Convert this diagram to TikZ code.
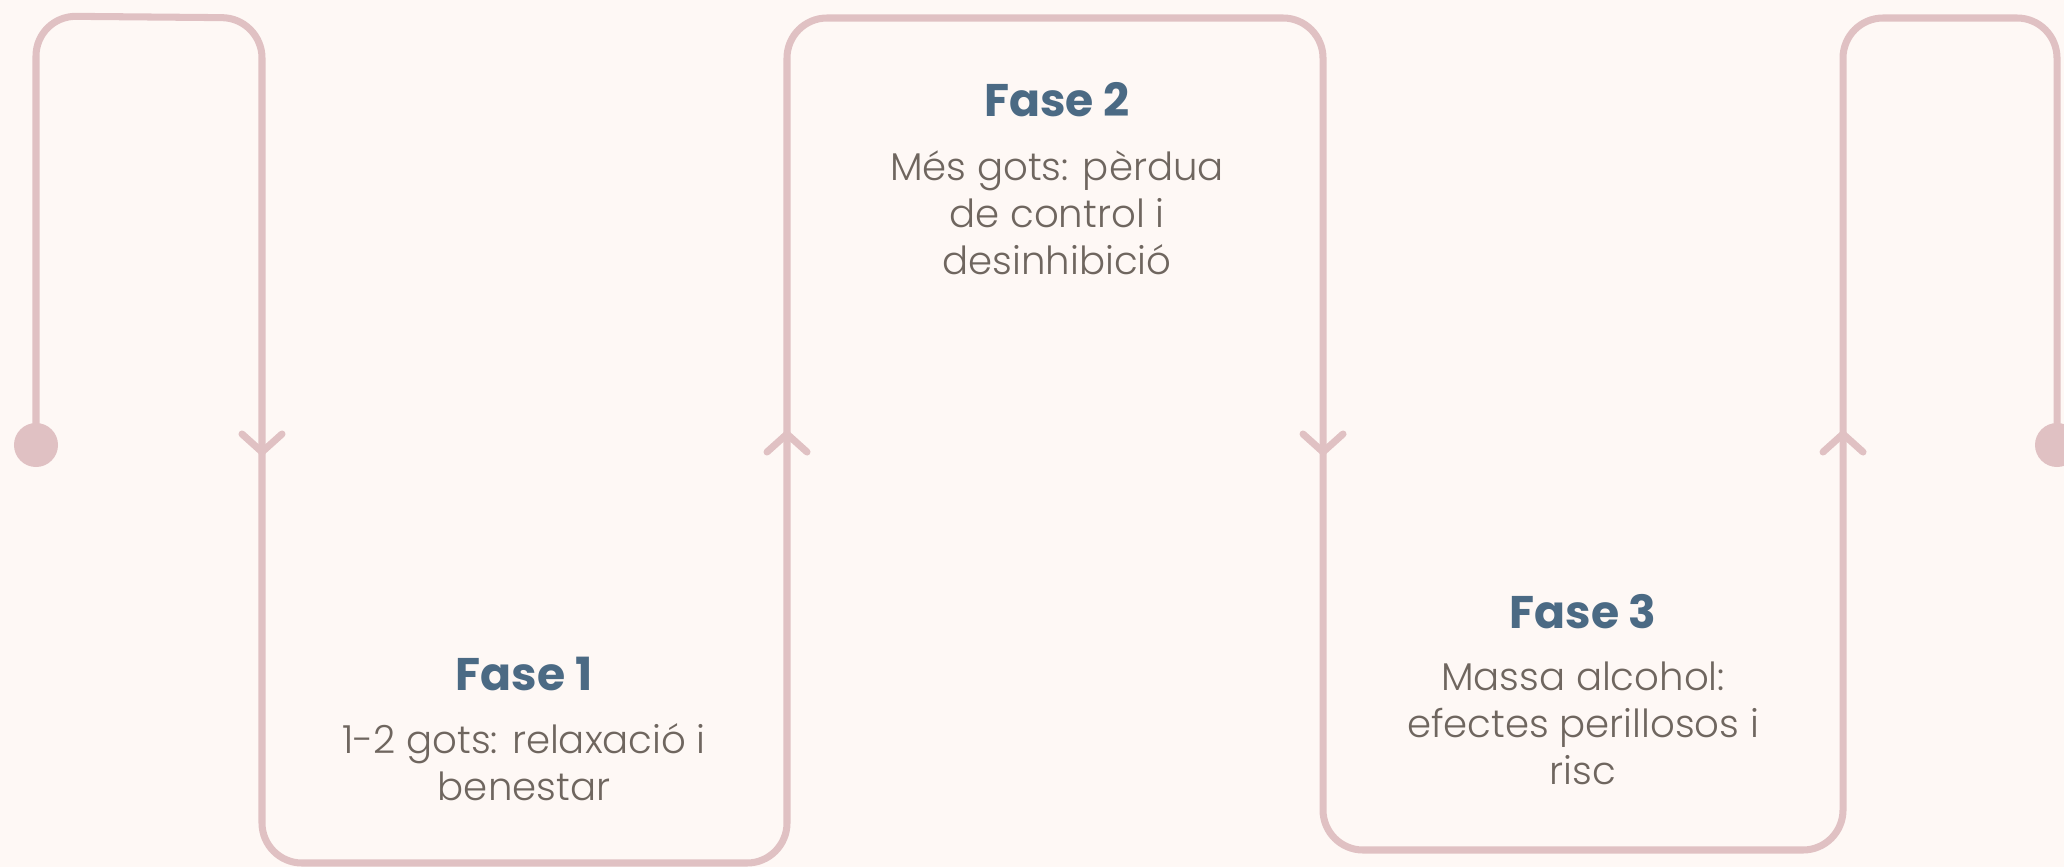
\documentclass[tikz,border=0pt]{standalone}
\usepackage{fontspec}
\setmainfont{Poppins}
\newfontfamily\lightfont{Poppins}[UprightFont=* Light]
\usetikzlibrary{positioning}
\definecolor{bgcream}{HTML}{FEF8F5}
\definecolor{pathrose}{HTML}{E0C1C3}
\definecolor{titleblue}{HTML}{4B6A84}
\definecolor{bodygrey}{HTML}{6F665F}

\begin{document}
\begin{tikzpicture}[x=0.01cm,y=-0.01cm,
  flow/.style={draw=pathrose,line width=2pt,rounded corners=4mm},
  chev/.style={draw=pathrose,line width=2pt,line cap=round,line join=round},
  dot/.style={circle,fill=pathrose,minimum size=4.4mm,inner sep=0pt},
  phase/.style={font=\fontsize{13}{16}\selectfont\bfseries,text=titleblue,inner sep=0pt},
  desc/.style={font=\lightfont\fontsize{11}{13.4}\selectfont,text=bodygrey,
    align=center,inner sep=0pt,execute at begin node={\rule{0pt}{10pt}}}]
  \fill[bgcream] (0,0) rectangle (2064,867);
  \useasboundingbox (0,0) rectangle (2064,867);
  % start and end dots
  \node[dot] (d1) at (36,445) {};
  \node[dot] (d2) at (2057,445) {};
  % the winding line
  \draw[flow] (d1.center) -- (36,16) -- (262,18) -- (262,863) -- (787,863)
    -- (787,18) -- (1323,18) -- (1323,850) -- (1843,850) -- (1843,18)
    -- (2057,18) -- (d2.center);
  % direction marks
  \foreach \x/\s in {262/1,787/-1,1323/1,1843/-1}
    \draw[chev] (\x-20,443-9*\s) -- (\x,443+9*\s) -- (\x+20,443-9*\s);
  % phases
  \node[phase,anchor=base] (f1) at (524,690) {Fase 1};
  \node[desc,below=0.32cm of f1] (f1d) {1-2 gots: relaxació i\\benestar};
  \node[phase,anchor=base] (f2) at (1057,117) {Fase 2};
  \node[desc,below=0.32cm of f2] (f2d) {Més gots: pèrdua\\de control i\\desinhibició};
  \node[phase,anchor=base] (f3) at (1583,628) {Fase 3};
  \node[desc,below=0.32cm of f3] (f3d) {Massa alcohol:\\efectes perillosos i\\risc};
\end{tikzpicture}
\end{document}
